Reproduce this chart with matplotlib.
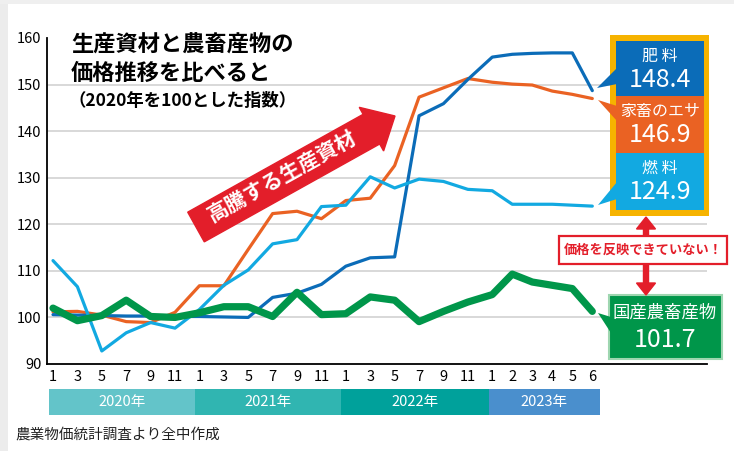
import matplotlib
matplotlib.use("Agg")
import matplotlib.pyplot as plt
from matplotlib.patches import Rectangle, FancyArrow, Polygon
from matplotlib.transforms import blended_transform_factory

plt.rcParams['font.family'] = ['Noto Sans CJK JP', 'DejaVu Sans']

W, H = 734, 451

# x axis: 2020-2022 every other month, 2023 every month
years = [2020] * 6 + [2021] * 6 + [2022] * 6 + [2023] * 6
months = [1, 3, 5, 7, 9, 11] * 3 + [1, 2, 3, 4, 5, 6]

# price index (2020 = 100)
fertilizer = [100.6, 100.5, 100.4, 100.3, 100.3, 100.2,
              100.2, 100.1, 100.0, 104.3, 105.2, 107.1,
              111.0, 112.8, 113.0, 143.3, 145.9, 151.1,
              155.9, 156.5, 156.7, 156.8, 156.8, 148.7]
feed = [101.2, 101.3, 100.5, 99.1, 98.9, 101.1,
        106.8, 106.8, 114.6, 122.3, 122.8, 121.2,
        125.1, 125.6, 132.6, 147.3, 149.3, 151.3,
        150.5, 150.1, 149.9, 148.6, 147.9, 147.0]
fuel = [112.2, 106.6, 92.8, 96.7, 98.9, 97.7,
        101.7, 106.9, 110.2, 115.8, 116.7, 123.8,
        124.1, 130.2, 127.8, 129.7, 129.2, 127.5,
        127.2, 124.3, 124.3, 124.3, 124.1, 123.9]
domestic = [102.0, 99.3, 100.4, 103.7, 100.2, 100.0,
            101.0, 102.3, 102.3, 100.2, 105.4, 100.6,
            100.8, 104.4, 103.7, 99.1, 101.3, 103.3,
            104.9, 109.3, 107.6, 106.9, 106.2, 101.3]

label_names = ["肥 料", "家畜のエサ", "燃 料"]
label_values = ["148.4", "146.9", "124.9"]
domestic_name = "国産農畜産物"
domestic_value = "101.7"
year_labels = ["2020年", "2021年", "2022年", "2023年"]

C_FERT = "#0b6cb8"
C_FEED = "#ea6223"
C_FUEL = "#12a9e1"
C_DOM = "#00964a"
C_RED = "#e31e2a"


def xpos(y, m):
    if y < 2023:
        return (y - 2020) * 6 + (m - 1) / 2
    return 18 + (m - 1) * 0.82


def fpx(x, y):
    """pixel (from top-left) -> figure fraction"""
    return x / W, 1 - y / H


def inch(x, y):
    return x / 100, (H - y) / 100


xs = [xpos(y, m) for y, m in zip(years, months)]

fig = plt.figure(figsize=(W / 100, H / 100), dpi=100)
fig.patch.set_facecolor("white")
# faint grey page edge
fig.patches.append(Rectangle((0, 0), 8 / W, 1, transform=fig.transFigure,
                             facecolor="#ececec", edgecolor="none", zorder=0))
fig.patches.append(Rectangle((0, 1 - 4 / H), 1, 4 / H, transform=fig.transFigure,
                             facecolor="#efefef", edgecolor="none", zorder=0))

ax = fig.add_axes([47 / W, 1 - 364 / H, 660 / W, 326 / H])
ax.set_facecolor("none")
ax.set_xlim(-0.246, 26.8)
ax.set_ylim(90, 160)

for v in range(100, 160, 10):
    ax.axhline(v, color="#d2d2d2", lw=1.2, zorder=1)

for s in ["top", "right"]:
    ax.spines[s].set_visible(False)
for s in ["left", "bottom"]:
    ax.spines[s].set_color("black")
    ax.spines[s].set_linewidth(1.3)

ax.set_yticks(range(90, 161, 10))
ax.tick_params(axis="y", length=0, pad=4, labelsize=10.5)
ax.set_xticks(xs)
ax.set_xticklabels([str(m) for m in months])
ax.tick_params(axis="x", length=0, pad=4, labelsize=10.5)

kw = dict(solid_joinstyle="round", solid_capstyle="round")
ax.plot(xs, feed, color=C_FEED, lw=2.3, zorder=3, **kw)
ax.plot(xs, fertilizer, color=C_FERT, lw=2.3, zorder=4, **kw)
ax.plot(xs, fuel, color=C_FUEL, lw=2.3, zorder=5, **kw)
ax.plot(xs, domestic, color=C_DOM, lw=5.2, zorder=6, **kw)

# year bands under the axis
trans = blended_transform_factory(ax.transData, ax.transAxes)
band_edges = [-0.15, 5.8, 11.8, 17.85, 22.4]
band_colors = ["#63c4c9", "#30b5b1", "#00a19b", "#4a8fcd"]
for i, lab in enumerate(year_labels):
    x0, x1 = band_edges[i], band_edges[i + 1]
    ax.add_patch(Rectangle((x0, -0.156), x1 - x0, 0.079, transform=trans,
                           facecolor=band_colors[i], edgecolor="none", clip_on=False))
    ax.text((x0 + x1) / 2, -0.117, lab, transform=trans, ha="center", va="center",
            color="white", fontsize=10.5)

# titles
fig.text(*fpx(71, 45), "生産資材と農畜産物の", fontsize=16, fontweight="bold",
         ha="left", va="center")
fig.text(*fpx(71, 73), "価格推移を比べると", fontsize=16, fontweight="bold",
         ha="left", va="center")
fig.text(*fpx(68, 101), "（2020年を100とした指数）", fontsize=12.5, fontweight="bold",
         ha="left", va="center")
fig.text(*fpx(15, 435), "農業物価統計調査より全中作成", fontsize=10.5,
         ha="left", va="center", color="#222222")

# big red arrow
x0, y0 = inch(196, 227)
x1, y1 = inch(395, 116)
fig.patches.append(FancyArrow(x0, y0, x1 - x0, y1 - y0, width=0.34, head_width=0.50,
                              head_length=0.27, length_includes_head=True,
                              transform=fig.dpi_scale_trans, color=C_RED, zorder=7))
fig.text(*fpx(282, 177), "高騰する生産資材", rotation=29, rotation_mode="anchor",
         fontsize=15, fontweight="bold", color="white", ha="center", va="center",
         zorder=8)

# label box for the three input costs
fig.patches.append(Rectangle(fpx(610, 216), 99 / W, 181 / H, transform=fig.transFigure,
                             facecolor="#f6b300", edgecolor="none", zorder=7))
sections = [(41, 96, C_FERT), (96, 153, C_FEED), (153, 210, C_FUEL)]
pointers = [[(597, 88), (617, 68), (617, 84)],
            [(598, 100), (617, 106), (617, 121)],
            [(598, 205), (617, 182), (617, 199)]]
for (top, bot, col), name, val, tri in zip(sections, label_names, label_values, pointers):
    fig.patches.append(Rectangle(fpx(616, bot), 88 / W, (bot - top) / H,
                                 transform=fig.transFigure, facecolor=col,
                                 edgecolor="none", zorder=8))
    fig.patches.append(Polygon([fpx(*p) for p in tri], closed=True,
                               transform=fig.transFigure, facecolor=col,
                               edgecolor="none", zorder=8))
    fig.text(*fpx(660, top + 15), name, fontsize=11.5, color="white",
             ha="center", va="center", zorder=9)
    fig.text(*fpx(660, top + 39), val, fontsize=18, color="white",
             ha="center", va="center", zorder=9)

# domestic products box
fig.patches.append(Rectangle(fpx(609, 359), 113 / W, 64 / H, transform=fig.transFigure,
                             facecolor=C_DOM, edgecolor="#9ed6b0", lw=1.5, zorder=8))
fig.patches.append(Polygon([fpx(598, 313), fpx(611, 317), fpx(611, 333)], closed=True,
                           transform=fig.transFigure, facecolor=C_DOM,
                           edgecolor="none", zorder=8))
fig.text(*fpx(665, 313), domestic_name, fontsize=12.5, color="white",
         ha="center", va="center", zorder=9)
fig.text(*fpx(665, 340), domestic_value, fontsize=18, color="white",
         ha="center", va="center", zorder=9)

# "not reflected" note with red arrows
fig.patches.append(Rectangle(fpx(559, 264), 168 / W, 28 / H, transform=fig.transFigure,
                             facecolor="white", edgecolor=C_RED, lw=1.6, zorder=8))
fig.text(*fpx(643, 250), "価格を反映できていない！", fontsize=9.5, fontweight="bold",
         color=C_RED, ha="center", va="center", zorder=9)
for ya, yb in [(236, 217), (264, 295)]:
    a0 = inch(646, ya)
    a1 = inch(646, yb)
    fig.patches.append(FancyArrow(a0[0], a0[1], 0, a1[1] - a0[1], width=0.05,
                                  head_width=0.19, head_length=0.12,
                                  length_includes_head=True,
                                  transform=fig.dpi_scale_trans, color=C_RED, zorder=8))

fig.savefig("out.png", dpi=100)
